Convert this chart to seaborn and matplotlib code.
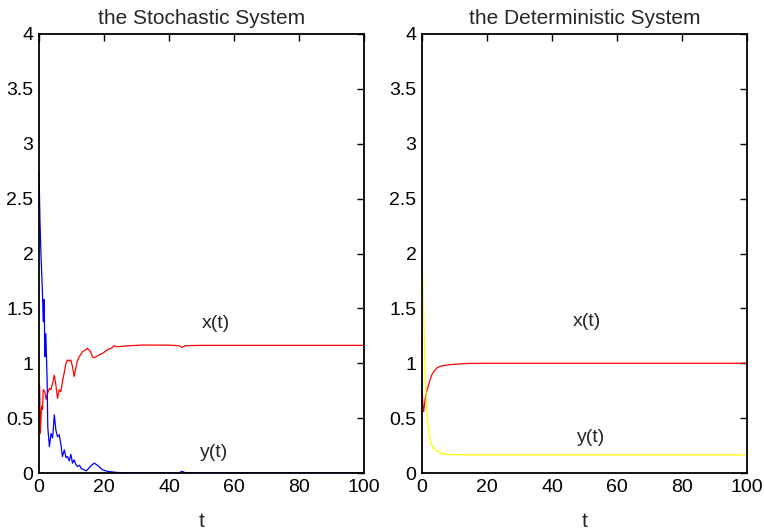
import matplotlib
matplotlib.use("Agg")
import matplotlib.pyplot as plt
import seaborn as sns

# ---- data ----
sto_x_t = [0, 0.2, 0.4, 0.8, 1.1, 1.3, 1.8, 2.2, 2.7, 3.2, 3.7, 4.2, 4.7, 5.2, 5.7,
           6.2, 6.7, 7.2, 7.8, 8.3, 8.8, 9.3, 9.8, 10.3, 10.8, 11.3, 11.8, 12.4,
           13.4, 14.9, 15.9, 16.4, 16.9, 17.6, 18.5, 19.5, 20.5, 21.5, 22.5, 23.0,
           24.0, 26.6, 31.7, 40.0, 43.0, 44.0, 45.0, 50.0, 100.0]
sto_x = [0.81, 0.79, 0.36, 0.61, 0.58, 0.76, 0.74, 0.67, 0.73, 0.77, 0.76, 0.82,
         0.89, 0.80, 0.68, 0.76, 0.74, 0.83, 0.92, 1.00, 1.03, 1.02, 1.03, 0.97,
         0.88, 0.95, 1.02, 1.06, 1.105, 1.135, 1.105, 1.06, 1.05, 1.06, 1.075,
         1.09, 1.11, 1.13, 1.14, 1.16, 1.15, 1.157, 1.166, 1.165, 1.16, 1.145,
         1.16, 1.163, 1.163]

sto_y_t = [0, 0.3, 0.6, 1.1, 1.3, 1.6, 1.8, 2.1, 2.5, 2.7, 3.2, 3.7, 4.2, 4.7,
           5.2, 5.7, 6.2, 6.7, 7.2, 7.8, 8.3, 8.8, 9.3, 9.8, 10.3, 10.8, 11.3,
           11.8, 12.5, 13.0, 14.6, 16.0, 17.0, 18.0, 19.5, 21.0, 23.6, 26.0,
           43.0, 44.0, 45.0, 100.0]
sto_y = [2.75, 2.30, 2.00, 1.61, 1.38, 1.58, 1.06, 1.27, 0.85, 0.42, 0.24, 0.36,
         0.32, 0.53, 0.39, 0.33, 0.35, 0.27, 0.15, 0.21, 0.14, 0.15, 0.11, 0.17,
         0.09, 0.12, 0.08, 0.06, 0.07, 0.04, 0.02, 0.066, 0.09, 0.07, 0.03,
         0.015, 0.006, 0.002, 0.001, 0.015, 0.002, 0.0]

det_x_t = [0, 0.3, 0.5, 1.0, 1.5, 2.1, 2.6, 3.1, 3.8, 4.7, 5.5, 6.7, 9.8, 14.0, 20.0, 100.0]
det_x = [0.79, 0.60, 0.56, 0.68, 0.75, 0.81, 0.86, 0.90, 0.93, 0.96, 0.97, 0.98,
         0.99, 0.998, 1.0, 1.0]

det_y_t = [0, 0.3, 0.7, 1.0, 1.55, 2.1, 2.8, 3.4, 4.1, 5.7, 7.8, 10.0, 15.0, 100.0]
det_y = [2.00, 1.66, 1.24, 0.87, 0.54, 0.36, 0.27, 0.235, 0.21, 0.18, 0.17,
         0.167, 0.165, 0.165]

titles = ["the Stochastic System", "the Deterministic System"]
x_ticks = [0, 20, 40, 60, 80, 100]
y_ticks = [0, 0.5, 1, 1.5, 2, 2.5, 3, 3.5, 4]
y_tick_labels = ["0", "0.5", "1", "1.5", "2", "2.5", "3", "3.5", "4"]

sns.set_style("white")
plt.rcParams["font.family"] = ["Liberation Sans", "DejaVu Sans"]

fig = plt.figure(figsize=(7.64, 5.32), dpi=100)
ax1 = fig.add_axes([39 / 764, 59 / 532, 325 / 764, 439 / 532])
ax2 = fig.add_axes([422 / 764, 59 / 532, 325 / 764, 439 / 532])

sns.lineplot(x=sto_x_t, y=sto_x, ax=ax1, color="#ff0000", lw=0.9, sort=False, estimator=None)
sns.lineplot(x=sto_y_t, y=sto_y, ax=ax1, color="#0000ff", lw=0.9, sort=False, estimator=None)
sns.lineplot(x=det_x_t, y=det_x, ax=ax2, color="#ff0000", lw=0.9, sort=False, estimator=None)
sns.lineplot(x=det_y_t, y=det_y, ax=ax2, color="#ffff00", lw=0.9, sort=False, estimator=None)

fs = 14
for ax, title in zip([ax1, ax2], titles):
    ax.set_xlim(0, 100)
    ax.set_ylim(0, 4)
    ax.set_xticks(x_ticks)
    ax.set_xticklabels([str(v) for v in x_ticks])
    ax.set_yticks(y_ticks)
    ax.set_yticklabels(y_tick_labels)
    ax.tick_params(direction="in", length=5, width=1, top=True, right=True,
                   labelsize=fs, pad=4, colors="black")
    for s in ax.spines.values():
        s.set_visible(True)
        s.set_color("black")
        s.set_linewidth(1.3)
    ax.set_title(title, fontsize=15, pad=7)
    ax.set_xlabel("t", fontsize=15, labelpad=12)
    ax.set_ylabel("")

ax1.text(54.5, 1.36, "x(t)", fontsize=fs, ha="center", va="center")
ax1.text(54.0, 0.19, "y(t)", fontsize=fs, ha="center", va="center")
ax2.text(50.8, 1.38, "x(t)", fontsize=fs, ha="center", va="center")
ax2.text(52.0, 0.32, "y(t)", fontsize=fs, ha="center", va="center")

fig.savefig("out.png", dpi=100, facecolor="white")
